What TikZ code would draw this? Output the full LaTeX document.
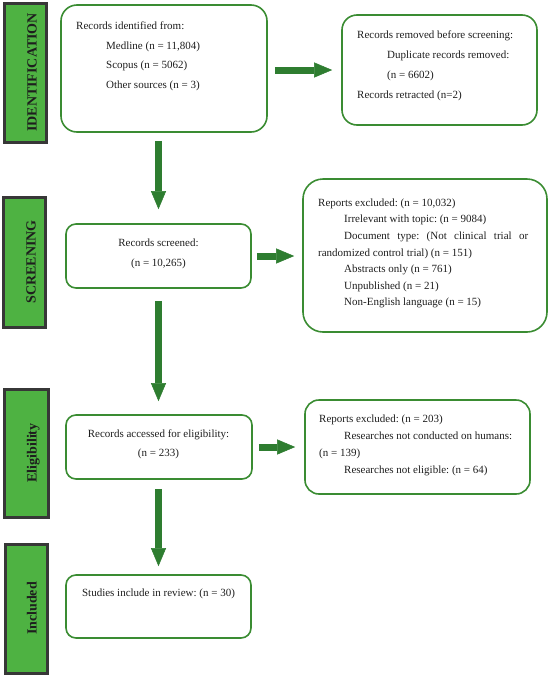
\documentclass[tikz,border=0pt]{standalone}
\usepackage{fontspec}
\setmainfont{Liberation Serif}
\usetikzlibrary{arrows.meta,shadows}
\definecolor{barfill}{RGB}{78,178,66}
\definecolor{bardraw}{RGB}{55,55,55}
\definecolor{boxdraw}{RGB}{58,140,50}
\definecolor{arrfill}{RGB}{46,125,48}
\definecolor{txtc}{RGB}{30,30,30}
\frenchspacing
\begin{document}
\begin{tikzpicture}[x=1pt,y=-1pt,
  phase/.style={draw=bardraw, line width=3pt, fill=barfill, inner sep=0pt,
    drop shadow={shadow xshift=1.5pt, shadow yshift=-1.5pt, opacity=0.35}},
  phaselabel/.style={rotate=90, anchor=base, inner sep=0pt, text=txtc,
    font=\fontsize{14}{16}\selectfont\bfseries},
  box/.style={draw=boxdraw, line width=1.6pt, inner sep=0pt},
  txt/.style={inner sep=0pt, anchor=north west, align=left, text=txtc},
  ctxt/.style={inner sep=0pt, anchor=north, align=center, text=txtc},
  blockarrow/.style={draw=arrfill, line width=7pt,
    -{Triangle[width=15pt,length=18pt,line width=0.5pt]}}]
\useasboundingbox (0,0) rectangle (550,678);

% phase bars
\node[phase, minimum width=42pt, minimum height=139pt] (p1) at (25,72.5) {};
\node[phase, minimum width=42pt, minimum height=130pt] (p2) at (24,262) {};
\node[phase, minimum width=44pt, minimum height=128pt] (p3) at (26,453) {};
\node[phase, minimum width=42pt, minimum height=129pt] (p4) at (26,608.5) {};
\node[phaselabel] (l1) at (36.5,72.5) {IDENTIFICATION};
\node[phaselabel] (l2) at (35.5,262) {SCREENING};
\node[phaselabel] (l3) at (36.5,453) {Eligibility};
\node[phaselabel] (l4) at (36.5,608.5) {Included};

% boxes
\node[box, rounded corners=16pt, minimum width=206pt, minimum height=127pt] (b1) at (164,68.5) {};
\node[box, rounded corners=15pt, minimum width=195pt, minimum height=110pt] (b2) at (439.5,70) {};
\node[box, rounded corners=10pt, minimum width=185pt, minimum height=64pt] (b3) at (158.5,256) {};
\node[box, rounded corners=20pt, minimum width=244pt, minimum height=153pt] (b4) at (425,255.5) {};
\node[box, rounded corners=10pt, minimum width=186pt, minimum height=64pt] (b5) at (159,447) {};
\node[box, rounded corners=14pt, minimum width=225pt, minimum height=94pt] (b6) at (417.5,447) {};
\node[box, rounded corners=10pt, minimum width=185pt, minimum height=63pt] (b7) at (158.5,606.5) {};

% texts
\node[txt, font=\fontsize{11}{19.7}\selectfont] (t1) at (76,21.5) {Records identified from:\\
\hspace*{30pt}Medline (n = 11,804)\\
\hspace*{30pt}Scopus (n = 5062)\\
\hspace*{30pt}Other sources (n = 3)};
\node[txt, font=\fontsize{11}{20}\selectfont] (t2) at (357,30.5) {Records removed before screening:\\
\hspace*{30pt}Duplicate records removed:\\
\hspace*{30pt}(n = 6602)\\
Records retracted (n=2)};
\node[ctxt, font=\fontsize{11}{20}\selectfont] (t3) at (158.5,238.5) {Records screened:\\(n = 10,265)};
\node[txt, font=\fontsize{11}{16.6}\selectfont] (t4) at (318,198.5) {Reports excluded: (n = 10,032)\\
\hspace*{26pt}Irrelevant with topic: (n = 9084)\\
\hbox to 210pt{\hspace*{26pt}Document\hfill type:\hfill (Not\hfill clinical\hfill trial\hfill or}\\
randomized control trial) (n = 151)\\
\hspace*{26pt}Abstracts only (n = 761)\\
\hspace*{26pt}Unpublished (n = 21)\\
\hspace*{26pt}Non-English language (n = 15)};
\node[ctxt, font=\fontsize{11}{19}\selectfont] (t5) at (158.5,429.5) {Records accessed for eligibility:\\(n = 233)};
\node[txt, font=\fontsize{11}{17}\selectfont] (t6) at (319,414.5) {Reports excluded: (n = 203)\\
\hspace*{25pt}Researches not conducted on humans:\\
(n = 139)\\
\hspace*{25pt}Researches not eligible: (n = 64)};
\node[ctxt, font=\fontsize{11}{19}\selectfont] (t7) at (158.5,588.5) {Studies include in review: (n = 30)};

% arrows
\draw[blockarrow, shorten <=8pt, shorten >=14pt] (b1.south -| b3.north) -- (b3.north);
\draw[blockarrow, shorten <=12pt, shorten >=13pt] (b3.south) -- (b3.south |- b5.north);
\draw[blockarrow, shorten <=9pt, shorten >=8pt] (b5.south -| b3.south) -- (b7.north);
\draw[blockarrow, shorten <=7pt, shorten >=9pt] (b1.east |- b2.west) -- (b2.west);
\draw[blockarrow, shorten <=5pt, shorten >=8pt] (b3.east) -- (b3.east -| b4.west);
\draw[blockarrow, shorten <=6pt, shorten >=9pt] (b5.east) -- (b5.east -| b6.west);
\end{tikzpicture}
\end{document}
